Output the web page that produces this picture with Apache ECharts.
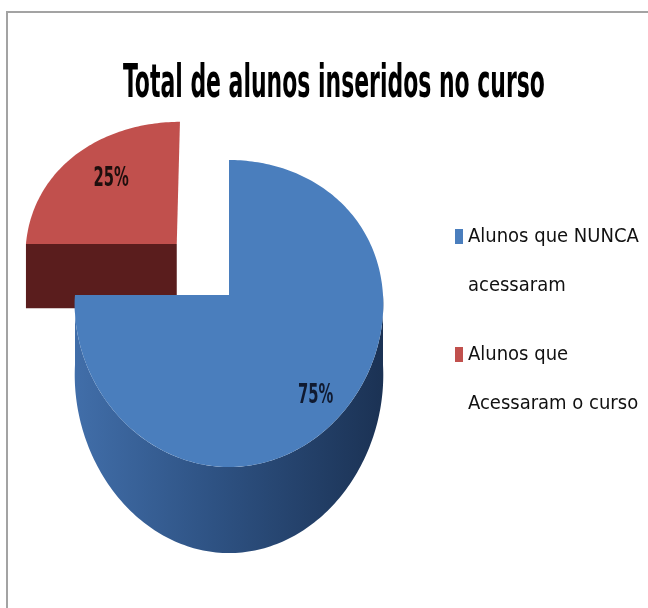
<!DOCTYPE html>
<html><head><meta charset="utf-8">
<script src="https://cdn.jsdelivr.net/npm/echarts@6/dist/echarts.min.js"></script>
<style>html,body{margin:0;padding:0;background:#fff}#c{width:648px;height:608px}</style>
</head><body><div id="c"></div>
<script>
// ---- data ----
const titleText = 'Total de alunos inseridos no curso';
const categories = ['Alunos que NUNCA acessaram', 'Alunos que Acessaram o curso'];
const values = [75, 25];

// ---- styles (kept apart from the data) ----
const topColors = ['#4a7ebd', '#c1504d'];
const sideColors = ['#2c4f7e', '#5a1d1d'];
const labelColors = ['#101a30', '#1e0e0d'];
const explode = [0, 0.49];
const labelShift = [[0, 12], [12, 6]];
const NARROW = '"Liberation Sans Narrow","DejaVu Sans Condensed","Roboto Condensed","Liberation Sans",sans-serif';

// simple perspective for the 3D disc (units = pie radius)
const PERSP_X = 0.06, PERSP_Y = 0.1205, DEPTH = 0.4547, DEPTH_P = 0.233;
function proj(api, X, Y, down) {
  const px = X * (1 + PERSP_X * Y);
  const py = Y + PERSP_Y * Y * Y + (down ? DEPTH * (1 + DEPTH_P * Y) : 0);
  return api.coord([px, py]);
}
const total = values.reduce((a, b) => a + b, 0);
function sliceInfo(i) {
  let acc = 0;
  for (let k = 0; k < i; k++) acc += values[k];
  const a0 = acc / total * 2 * Math.PI;
  const a1 = (acc + values[i]) / total * 2 * Math.PI;
  const mid = (a0 + a1) / 2;
  return { a0, a1, mid, ox: Math.sin(mid) * explode[i], oy: -Math.cos(mid) * explode[i] };
}
// back-to-front order
const order = values.map((v, i) => i).sort((p, q) => {
  const sp = sliceInfo(p), sq = sliceInfo(q);
  return (sp.oy - Math.cos(sp.mid) * 0.5) - (sq.oy - Math.cos(sq.mid) * 0.5);
});
const rank = []; order.forEach((idx, r) => { rank[idx] = r; });

function makeRender(si) {
  return function (params, api) {
    const s = sliceInfo(si);
    const base = rank[si] * 10;
    const pt = (phi, r, down) => proj(api, s.ox + r * Math.sin(phi), s.oy - r * Math.cos(phi), down);
    const children = [];
    // outer wall (front-facing part)
    const w0 = Math.max(s.a0, Math.PI / 2), w1 = Math.min(s.a1, 3 * Math.PI / 2);
    if (w1 > w0) {
      const topPts = [], botPts = [];
      const n = Math.max(8, Math.ceil((w1 - w0) / 0.02));
      for (let k = 0; k <= n; k++) {
        const p = w0 + (w1 - w0) * k / n;
        topPts.push(pt(p, 1, false)); botPts.push(pt(p, 1, true));
      }
      children.push({
        type: 'polygon', z2: base + 1,
        shape: { points: topPts.concat(botPts.reverse()) },
        style: {
          fill: si === 0 ? new echarts.graphic.LinearGradient(0, 0, 1, 0, [
            { offset: 0, color: '#416ea9' }, { offset: 0.45, color: '#2e5283' }, { offset: 1, color: '#1b3254' }
          ]) : sideColors[si]
        }
      });
    }
    // cut faces
    if (-Math.sin(s.a0) > 1e-6) {
      children.push({ type: 'polygon', z2: base + 1,
        shape: { points: [pt(s.a0, 0, false), pt(s.a0, 1, false), pt(s.a0, 1, true), pt(s.a0, 0, true)] },
        style: { fill: sideColors[si] } });
    }
    if (Math.sin(s.a1) > 1e-6) {
      children.push({ type: 'polygon', z2: base + 1,
        shape: { points: [pt(s.a1, 0, false), pt(s.a1, 1, false), pt(s.a1, 1, true), pt(s.a1, 0, true)] },
        style: { fill: sideColors[si] } });
    }
    // top face
    const tp = [pt(s.a0, 0, false)];
    const n2 = Math.max(8, Math.ceil((s.a1 - s.a0) / 0.02));
    for (let k = 0; k <= n2; k++) tp.push(pt(s.a0 + (s.a1 - s.a0) * k / n2, 1, false));
    children.push({ type: 'polygon', z2: base + 2, shape: { points: tp }, style: { fill: topColors[si] } });
    // label
    const lp = pt(s.mid, 0.77, false);
    children.push({
      type: 'text', z2: base + 3, x: lp[0] + labelShift[si][0], y: lp[1] + labelShift[si][1],
      scaleX: 0.82, scaleY: 1.3,
      style: {
        text: Math.round(api.value(2) / total * 100) + '%',
        font: 'bold 20px ' + NARROW, fill: labelColors[si],
        align: 'center', verticalAlign: 'middle'
      }
    });
    return { type: 'group', children };
  };
}

const chart = echarts.init(document.getElementById('c'), null, { renderer: 'canvas' });
chart.setOption({
  backgroundColor: '#ffffff',
  animation: false,
  grid: { left: 13.4, top: 80.1, width: 431.2, height: 491.2 },
  xAxis: { type: 'value', min: -1.4, max: 1.4, show: false },
  yAxis: { type: 'value', min: -1.4, max: 1.8, inverse: true, show: false },
  legend: {
    orient: 'vertical', left: 450, top: 207,
    // square at the top of a tall icon box so it lines up with the first text line
    icon: 'path://M0,0L8,0L8,15L0,15Z M0,64L8,64',
    itemWidth: 8, itemHeight: 64, itemGap: 20, data: categories, selectedMode: false,
    textStyle: { fontFamily: NARROW, fontSize: 20, color: '#111', lineHeight: 49,
      width: 185, overflow: 'break' }
  },
  graphic: [
    { type: 'rect', silent: true, shape: { x: 7, y: 12, width: 720, height: 700 },
      style: { fill: 'none', stroke: '#a3a3a3', lineWidth: 2 } },
    { type: 'text', silent: true, x: 334, y: 85, scaleX: 0.787, scaleY: 1.5,
      style: { text: titleText, font: 'bold 31px ' + NARROW, fill: '#000', align: 'center', verticalAlign: 'middle' } }
  ],
  series: categories.map((name, i) => ({
    type: 'custom', name: name, coordinateSystem: 'cartesian2d',
    itemStyle: { color: topColors[i] },
    encode: { x: 0, y: 1 },
    data: [[0, 0, values[i]]],
    renderItem: makeRender(i)
  }))
});
</script></body></html>
